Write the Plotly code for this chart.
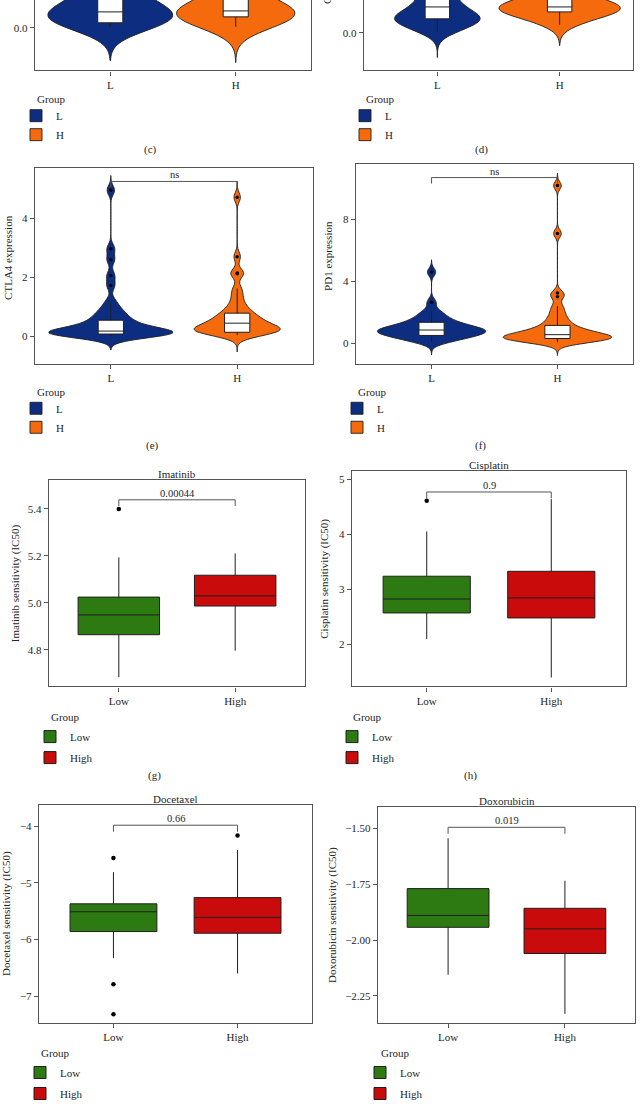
import plotly.graph_objects as go

# canvas size in px
W, H = 641, 1108

# ---- violin panels (c)-(f): groups, raw samples, box stats, outliers ----
lh_groups = ["L", "H"]

# (c) partially visible panel
c_L_values = [0.01, 0.02, 0.03, 0.05, 0.06, 0.08, 0.09, 0.10, 0.11, 0.12, 0.13, 0.15,
              0.17, 0.19, 0.21, 0.24, 0.27, 0.30, 0.34, 0.38, 0.43, 0.49, 0.56, 0.65, 0.75, 0.90]
c_H_values = [0.01, 0.03, 0.05, 0.07, 0.09, 0.10, 0.11, 0.12, 0.13, 0.14, 0.15, 0.16,
              0.17, 0.18, 0.20, 0.22, 0.25, 0.28, 0.32, 0.37, 0.43, 0.50, 0.60, 0.72]
c_q1 = [0.05, 0.11]
c_median = [0.16, 0.17]
c_q3 = [0.45, 0.36]
c_lower = [0.01, 0.01]
c_upper = [0.95, 0.75]

# (d) partially visible panel
d_L_values = [0.01, 0.04, 0.07, 0.09, 0.11, 0.13, 0.14, 0.15, 0.16, 0.18, 0.20, 0.23,
              0.26, 0.30, 0.34, 0.38, 0.43, 0.48, 0.55, 0.62, 0.70, 0.80, 0.95, 1.10]
d_H_values = [0.08, 0.12, 0.15, 0.18, 0.20, 0.21, 0.22, 0.23, 0.24, 0.25, 0.26, 0.27,
              0.28, 0.30, 0.32, 0.34, 0.37, 0.40, 0.45, 0.52, 0.60]
d_q1 = [0.14, 0.21]
d_median = [0.26, 0.26]
d_q3 = [0.45, 0.36]
d_lower = [0.01, 0.08]
d_upper = [1.0, 0.6]

# (e) CTLA4
e_L_values = [0.00, 0.02, 0.04, 0.05, 0.06, 0.07, 0.08, 0.09, 0.10, 0.11, 0.12, 0.13,
              0.15, 0.17, 0.19, 0.22, 0.26, 0.30, 0.35, 0.40, 0.46, 0.52, 0.58, 0.66,
              0.75, 0.85, 0.97, 1.18, 1.72, 2.06, 2.60, 2.97, 4.96]
e_H_values = [0.03, 0.06, 0.09, 0.12, 0.14, 0.16, 0.18, 0.20, 0.22, 0.24, 0.26, 0.29,
              0.32, 0.35, 0.39, 0.43, 0.47, 0.52, 0.57, 0.62, 0.68, 0.74, 0.80, 0.90,
              1.02, 1.18, 1.40, 1.62, 2.12, 2.15, 2.70, 4.72]
e_q1 = [0.07, 0.13]
e_median = [0.17, 0.44]
e_q3 = [0.54, 0.78]
e_lower = [0.0, 0.03]
e_upper = [1.18, 1.62]
e_outliers = [[1.72, 2.06, 2.60, 2.97, 4.96], [2.12, 2.15, 2.70, 4.72]]

# (f) PD1
f_L_values = [0.06, 0.15, 0.25, 0.33, 0.40, 0.46, 0.51, 0.56, 0.61, 0.66, 0.70, 0.74,
              0.78, 0.82, 0.85, 0.89, 0.93, 0.98, 1.03, 1.09, 1.16, 1.24, 1.33, 1.43,
              1.55, 1.70, 1.88, 2.10, 2.65, 4.60]
f_H_values = [0.06, 0.10, 0.14, 0.18, 0.22, 0.26, 0.29, 0.32, 0.35, 0.38, 0.41, 0.45,
              0.49, 0.53, 0.57, 0.62, 0.68, 0.75, 0.83, 0.92, 1.02, 1.15, 1.32, 1.52,
              1.75, 2.05, 2.40, 3.00, 3.25, 7.10, 10.20]
f_q1 = [0.50, 0.30]
f_median = [0.85, 0.55]
f_q3 = [1.35, 1.15]
f_lower = [0.06, 0.06]
f_upper = [2.10, 2.40]
f_outliers = [[2.65, 4.60], [3.00, 3.25, 7.10, 10.20]]

# ---- drug sensitivity panels (g)-(j): box stats per group (Low, High) ----
risk_groups = ["Low", "High"]

imatinib_q1 = [4.865, 4.987]
imatinib_median = [4.949, 5.030]
imatinib_q3 = [5.025, 5.118]
imatinib_lower = [4.684, 4.797]
imatinib_upper = [5.194, 5.211]
imatinib_outliers = [[5.40], []]
imatinib_p = "0.00044"

cisplatin_q1 = [2.566, 2.475]
cisplatin_median = [2.820, 2.840]
cisplatin_q3 = [3.235, 3.325]
cisplatin_lower = [2.09, 1.39]
cisplatin_upper = [4.05, 4.64]
cisplatin_outliers = [[4.61], []]
cisplatin_p = "0.9"

docetaxel_q1 = [-5.86, -5.89]
docetaxel_median = [-5.51, -5.61]
docetaxel_q3 = [-5.37, -5.26]
docetaxel_lower = [-6.33, -6.60]
docetaxel_upper = [-4.81, -4.42]
docetaxel_outliers = [[-4.56, -6.79, -7.32], [-4.16]]
docetaxel_p = "0.66"

doxorubicin_q1 = [-1.943, -2.060]
doxorubicin_median = [-1.890, -1.950]
doxorubicin_q3 = [-1.770, -1.858]
doxorubicin_lower = [-2.155, -2.330]
doxorubicin_upper = [-1.545, -1.735]
doxorubicin_outliers = [[], []]
doxorubicin_p = "0.019"

# ---- styles ----
NAVY = "#0c2d80"
ORANGE = "#f56a0d"
GREEN = "#2d7a13"
RED = "#c90b0b"
FRAME = "#555555"
OUTLINE = "#1f1f1f"
TEXT = "#262626"
FONT = "Liberation Serif"
FS = 11

fig = go.Figure()


def px_x(v):
    return v / W


def px_y(v):
    return 1 - v / H


def sfx(n):
    return "" if n == 1 else str(n)


def setup_axes(n, box, yrange, dtick, fmt, ticktext, open_top=False):
    x0, x1, y0, y1 = box
    common = dict(showline=True, linecolor=FRAME, linewidth=1.4, ticks="outside",
                  ticklen=4, tickwidth=1, tickcolor=FRAME, showgrid=False, zeroline=False,
                  tickfont=dict(family=FONT, size=FS, color=TEXT), fixedrange=True)
    fig.update_layout({
        f"xaxis{sfx(n)}": dict(domain=[px_x(x0), px_x(x1)], range=[-0.6, 1.6],
                               tickvals=[0, 1], ticktext=ticktext, anchor=f"y{sfx(n)}",
                               mirror=not open_top, **common),
        f"yaxis{sfx(n)}": dict(domain=[px_y(y1), px_y(y0)], range=yrange, dtick=dtick,
                               tick0=0, tickformat=fmt, anchor=f"x{sfx(n)}",
                               mirror=True, **common),
    })


def add_legend(n, gx, gy, gap, drop):
    # "Group" heading as text, items as a plotly legend just below it
    fig.add_annotation(x=px_x(gx), y=px_y(gy), xref="paper", yref="paper", text="Group",
                       showarrow=False, xanchor="left", yanchor="middle",
                       font=dict(family=FONT, size=FS, color=TEXT))
    fig.update_layout({
        f"legend{sfx(n)}": dict(
            x=px_x(gx - 19), y=px_y(gy + drop), xanchor="left", yanchor="top",
            font=dict(family=FONT, size=FS, color=TEXT), bgcolor="rgba(0,0,0,0)",
            traceorder="grouped", tracegroupgap=gap, itemclick=False,
        )
    })


def add_violin(n, pos, values, width, bw, span, color, name):
    fig.add_trace(go.Violin(
        x0=pos, y=values, width=width, bandwidth=bw, spanmode="manual", span=span,
        scalemode="width", fillcolor=color, line=dict(color=OUTLINE, width=0.9),
        points=False, box_visible=False, meanline_visible=False, name=name,
        legendgroup=f"{n}{name}", legend=f"legend{sfx(n)}",
        xaxis=f"x{sfx(n)}", yaxis=f"y{sfx(n)}", hoverinfo="skip",
    ))


def add_box(n, pos, q1, med, q3, lo, hi, width, fill, name, legend):
    fig.add_trace(go.Box(
        x=[pos], q1=[q1], median=[med], q3=[q3], lowerfence=[lo], upperfence=[hi],
        orientation="v", width=width, fillcolor=fill, line=dict(color=OUTLINE, width=1),
        whiskerwidth=0, boxpoints=False, name=name, showlegend=legend,
        legendgroup=f"{n}{name}", legend=f"legend{sfx(n)}",
        xaxis=f"x{sfx(n)}", yaxis=f"y{sfx(n)}", hoverinfo="skip",
    ))


def add_outliers(n, outliers, size):
    for pos, vals in enumerate(outliers):
        if not vals:
            continue
        fig.add_trace(go.Scatter(
            x=[pos] * len(vals), y=vals, mode="markers",
            marker=dict(color="black", size=size), showlegend=False,
            xaxis=f"x{sfx(n)}", yaxis=f"y{sfx(n)}", hoverinfo="skip",
        ))


def add_bracket(n, level, yrange, label):
    tip = 0.03 * (yrange[1] - yrange[0])
    fig.add_trace(go.Scatter(
        x=[0, 0, 1, 1], y=[level - tip, level, level, level - tip], mode="lines",
        line=dict(color=FRAME, width=1), showlegend=False,
        xaxis=f"x{sfx(n)}", yaxis=f"y{sfx(n)}", hoverinfo="skip",
    ))
    fig.add_annotation(x=0.5, y=level, xref=f"x{sfx(n)}", yref=f"y{sfx(n)}",
                       text=label, showarrow=False, yanchor="bottom", yshift=-1,
                       font=dict(family=FONT, size=FS - 0.5, color=TEXT))


def add_text(x, y, text, angle=0, yanchor="middle", size=FS):
    fig.add_annotation(x=px_x(x), y=px_y(y), xref="paper", yref="paper", text=text,
                       showarrow=False, textangle=angle, xanchor="center",
                       yanchor=yanchor, font=dict(family=FONT, size=size, color=TEXT))


# ---- violin panels ----
violin_panels = [
    # n, frame box px, y range, dtick, format, samples, widths, bandwidth, spans, stats, outliers
    dict(n=1, box=(35, 311, 0, 71), yr=[-0.43, 0.28], dt=0.5, fmt=".1f",
         vals=[c_L_values, c_H_values], widths=[0.99, 0.94], bw=0.12,
         spans=[[-0.33, 1.3], [-0.35, 1.1]],
         stats=[c_q1, c_median, c_q3, c_lower, c_upper], out=[[], []],
         legend=(35, 100), label=(150, 151), open_top=True),
    dict(n=2, box=(364, 633, 0, 71), yr=[-0.38, 0.33], dt=0.5, fmt=".1f",
         vals=[d_L_values, d_H_values], widths=[0.70, 0.99], bw=0.075,
         spans=[[-0.25, 1.3], [-0.13, 0.9]],
         stats=[d_q1, d_median, d_q3, d_lower, d_upper], out=[[], []],
         legend=(364, 100), label=(481, 151), open_top=True),
    dict(n=3, box=(35, 313, 169, 367), yr=[-0.95, 5.73], dt=2, fmt="",
         vals=[e_L_values, e_H_values], widths=[0.98, 0.68], bw=0.16,
         spans=[[-0.47, 5.46], [-0.54, 5.26]],
         stats=[e_q1, e_median, e_q3, e_lower, e_upper], out=e_outliers,
         legend=(35, 395), label=(152, 449), bracket=5.26, ytitle=("CTLA4 expression", 8)),
    dict(n=4, box=(356, 633, 165, 367), yr=[-1.35, 11.62], dt=4, fmt="",
         vals=[f_L_values, f_H_values], widths=[0.86, 0.86], bw=0.25,
         spans=[[-0.77, 5.4], [-0.8, 11.0]],
         stats=[f_q1, f_median, f_q3, f_lower, f_upper], out=f_outliers,
         legend=(356, 395), label=(480, 449), bracket=10.72, ytitle=("PD1 expression", 328)),
]

for p in violin_panels:
    n = p["n"]
    setup_axes(n, p["box"], p["yr"], p["dt"], p["fmt"], lh_groups, p.get("open_top", False))
    for i, (name, color) in enumerate(zip(lh_groups, [NAVY, ORANGE])):
        add_violin(n, i, p["vals"][i], p["widths"][i], p["bw"], p["spans"][i], color, name)
    for i, name in enumerate(lh_groups):
        q1, med, q3, lo, hi = (s[i] for s in p["stats"])
        add_box(n, i, q1, med, q3, lo, hi, 0.2, "white", name, False)
    add_outliers(n, p["out"], 3.5)
    if "bracket" in p:
        add_bracket(n, p["bracket"], p["yr"], "ns")
    if "ytitle" in p:
        y0, y1 = p["box"][2], p["box"][3]
        add_text(p["ytitle"][1], (y0 + y1) / 2 - 8, p["ytitle"][0], angle=-90)
    add_legend(n, *p["legend"], gap=0, drop=2)
    add_text(*p["label"], "(" + "cdef"[n - 1] + ")")

# truncated y title of panel (d), only its first letter shows at the top edge
fig.add_annotation(x=px_x(327), y=px_y(6), xref="paper", yref="paper",
                   text="CD274 expression", showarrow=False, textangle=-90,
                   xanchor="center", yanchor="bottom",
                   font=dict(family=FONT, size=FS, color=TEXT))

# ---- drug sensitivity panels ----
box_panels = [
    dict(n=5, box=(49, 305, 484, 692), yr=[4.645, 5.523], dt=0.2, fmt=".1f", drug="Imatinib",
         stats=[imatinib_q1, imatinib_median, imatinib_q3, imatinib_lower, imatinib_upper],
         out=imatinib_outliers, p=imatinib_p, bracket=5.439, ytx=15,
         legend=(49, 723), label=(154, 782)),
    dict(n=6, box=(352, 626, 475, 692), yr=[1.228, 5.15], dt=1, fmt="", drug="Cisplatin",
         stats=[cisplatin_q1, cisplatin_median, cisplatin_q3, cisplatin_lower, cisplatin_upper],
         out=cisplatin_outliers, p=cisplatin_p, bracket=4.77, ytx=325,
         legend=(351, 723), label=(470, 782)),
    dict(n=7, box=(39, 312, 812, 1031), yr=[-7.47, -3.63], dt=1, fmt="", drug="Docetaxel",
         stats=[docetaxel_q1, docetaxel_median, docetaxel_q3, docetaxel_lower, docetaxel_upper],
         out=docetaxel_outliers, p=docetaxel_p, bracket=-3.98, ytx=6,
         legend=(39, 1062), label=None),
    dict(n=8, box=(378, 635, 814, 1031), yr=[-2.369, -1.407], dt=0.25, fmt=".2f",
         drug="Doxorubicin",
         stats=[doxorubicin_q1, doxorubicin_median, doxorubicin_q3, doxorubicin_lower,
                doxorubicin_upper],
         out=doxorubicin_outliers, p=doxorubicin_p, bracket=-1.496, ytx=332,
         legend=(379, 1062), label=None),
]

for p in box_panels:
    n = p["n"]
    setup_axes(n, p["box"], p["yr"], p["dt"], p["fmt"], risk_groups)
    for i, (name, color) in enumerate(zip(risk_groups, [GREEN, RED])):
        q1, med, q3, lo, hi = (s[i] for s in p["stats"])
        add_box(n, i, q1, med, q3, lo, hi, 0.7, color, name, True)
    add_outliers(n, p["out"], 4.5)
    add_bracket(n, p["bracket"], p["yr"], p["p"])
    x0, x1, y0, y1 = p["box"]
    add_text((x0 + x1) / 2, y0 - 6, p["drug"])
    add_text(p["ytx"], (y0 + y1) / 2, p["drug"] + " sensitivity (IC50)", angle=-90)
    add_legend(n, *p["legend"], gap=2, drop=5)
    if p["label"]:
        add_text(*p["label"], "(" + "gh"[n - 5] + ")")

fig.update_layout(
    width=W, height=H, margin=dict(l=0, r=0, t=0, b=0),
    paper_bgcolor="white", plot_bgcolor="white",
    violinmode="overlay", boxmode="overlay",
    font=dict(family=FONT, size=FS, color=TEXT),
)

# the page body keeps its default 8px margin otherwise; hide the modebar
fig.write_html("out.html", config={"displayModeBar": False},
               post_script="document.body.style.margin = '0';")
